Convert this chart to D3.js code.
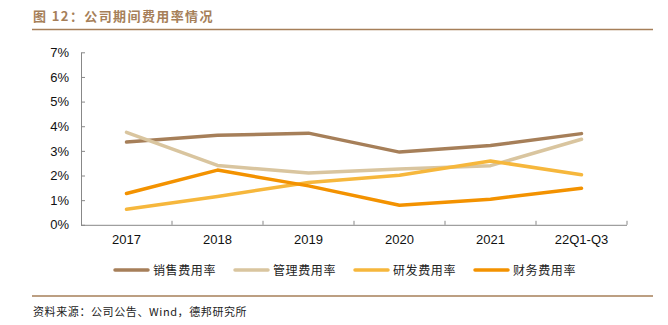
<!DOCTYPE html>
<html><head><meta charset="utf-8">
<script src="https://cdn.jsdelivr.net/npm/d3@7"></script>
<style>body{margin:0;background:#fff}svg{display:block}</style>
</head><body>
<svg id="c" width="668" height="325"></svg>
<script>
const categories = ["2017","2018","2019","2020","2021","22Q1-Q3"];
const seriesNames = ["销售费用率","管理费用率","研发费用率","财务费用率"];
const sales   = [3.36, 3.63, 3.72, 2.95, 3.22, 3.70];
const admin   = [3.75, 2.41, 2.10, 2.26, 2.40, 3.47];
const rnd     = [0.63, 1.15, 1.72, 2.01, 2.59, 2.03];
const finance = [1.27, 2.22, 1.58, 0.79, 1.04, 1.48];
const yTicks  = [0,1,2,3,4,5,6,7];
const colors  = ["#a67f59","#d9c59f","#f6b73c","#f39200"];
const title = "图 12：公司期间费用率情况";
const source = "资料来源：公司公告、Wind，德邦研究所";

const svg = d3.select("#c");
const ml = 81, mr = 627, mt = 52.3, mb = 224.8;
const x = d3.scaleBand().domain(categories).range([ml, mr]);
const y = d3.scaleLinear().domain([0,7]).range([mb, mt]);

// title
svg.append("text").attr("x",33).attr("y",21).text(title)
  .attr("font-family","'Noto Sans CJK SC',sans-serif").attr("font-weight","bold")
  .attr("font-size",13).attr("letter-spacing",1.4).attr("fill","#a67f59");
svg.append("line").attr("x1",32).attr("x2",653).attr("y1",29.5).attr("y2",29.5)
  .attr("stroke","#a67f59").attr("stroke-width",1.5);

// axes
const yAxis = d3.axisLeft(y).tickValues(yTicks).tickFormat(d=>d+"%").tickSizeInner(-4).tickSizeOuter(0).tickPadding(12);
const gy = svg.append("g").attr("transform",`translate(${ml},0)`).call(yAxis);
const xAxis = d3.axisBottom(x).tickSize(0).tickPadding(10);
const gx = svg.append("g").attr("transform",`translate(0,${mb})`).call(xAxis);
// x ticks between categories (inward)
svg.append("g").selectAll("line").data(categories).join("line")
  .attr("x1",d=>x(d)+x.bandwidth()).attr("x2",d=>x(d)+x.bandwidth())
  .attr("y1",mb).attr("y2",mb-4).attr("stroke","#888").attr("stroke-width",1);
[gx,gy].forEach(g=>{
  g.selectAll("path,line").attr("stroke","#888");
  g.selectAll("text").attr("font-family","'Liberation Sans',Arial,sans-serif").attr("font-size",13).attr("fill","#111");
});
gx.select(".domain").attr("d",`M${ml},0.5H${mr}`);

// lines
const data = [sales, admin, rnd, finance];
const line = d3.line().x((d,i)=>x(categories[i])+x.bandwidth()/2).y(d=>y(d));
svg.append("g").selectAll("path").data(data).join("path")
  .attr("d",line).attr("fill","none").attr("stroke",(d,i)=>colors[i])
  .attr("stroke-width",3.5).attr("stroke-linejoin","round").attr("stroke-linecap","round");

// legend
const lg = svg.append("g").selectAll("g").data(seriesNames).join("g")
  .attr("transform",(d,i)=>`translate(${115+i*120},270)`);
lg.append("line").attr("x1",0).attr("x2",33).attr("y1",0).attr("y2",0)
  .attr("stroke",(d,i)=>colors[i]).attr("stroke-width",3.5).attr("stroke-linecap","round");
lg.append("text").attr("x",38).attr("y",4.5).text(d=>d)
  .attr("font-family","'Noto Sans CJK SC',serif").attr("font-size",12).attr("letter-spacing",0.6).attr("fill","#222");

// source
svg.append("line").attr("x1",32).attr("x2",653).attr("y1",296).attr("y2",296)
  .attr("stroke","#a67f59").attr("stroke-width",1.5);
svg.append("text").attr("x",33).attr("y",316).text(source)
  .attr("font-family","'Noto Sans CJK SC',sans-serif").attr("font-size",11).attr("letter-spacing",0.6).attr("fill","#222");
</script>
</body></html>
